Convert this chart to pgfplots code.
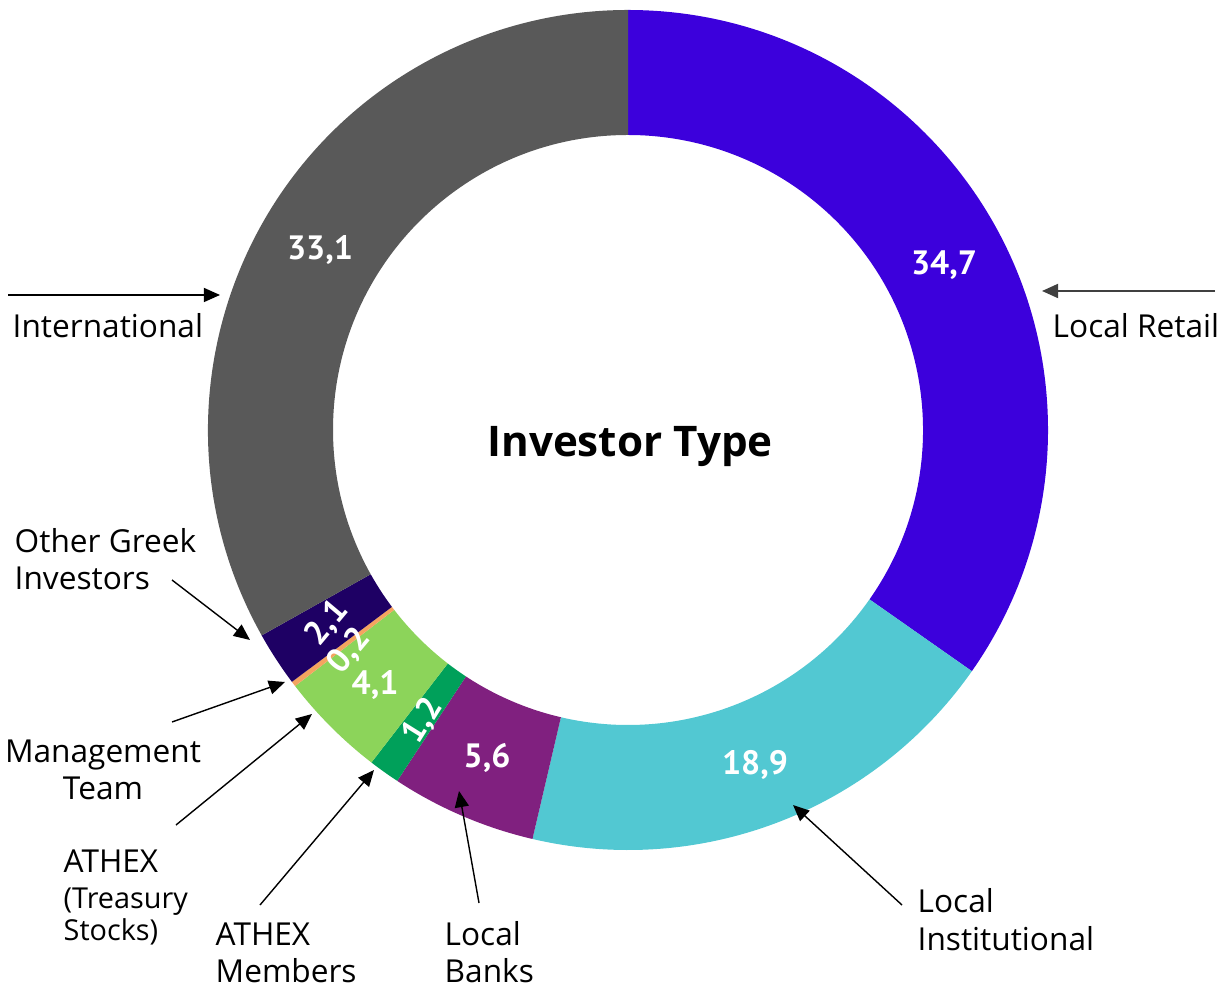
\documentclass[border=0pt]{standalone}
\usepackage{fontspec}
\setmainfont{Open Sans}
\newfontfamily\numfont{PT Sans}
\usepackage{pgfplots}
\pgfplotsset{compat=1.18}
\usetikzlibrary{arrows.meta}
\definecolor{cRetail}{HTML}{3C00DC}
\definecolor{cInst}{HTML}{52C8D2}
\definecolor{cBanks}{HTML}{80207F}
\definecolor{cMembers}{HTML}{00A05A}
\definecolor{cTreas}{HTML}{8CD45A}
\definecolor{cMgmt}{HTML}{F4A460}
\definecolor{cOther}{HTML}{1E0064}
\definecolor{cIntl}{HTML}{595959}
\def\cum{0}
\def\total{99.9}
\newcommand\slice[2]{%
  \pgfmathsetmacro\sa{90-(\cum/\total)*360}%
  \pgfmathsetmacro\newcum{\cum+#1}%
  \xdef\cum{\newcum}%
  \pgfmathsetmacro\sb{90-(\cum/\total)*360}%
  \edef\temp{\noexpand\fill[#2] (axis cs:628,-430) ++(\sa:4.2cm) arc[start angle=\sa,end angle=\sb,radius=4.2cm] -- ++(\sb:-1.25cm) arc[start angle=\sb,end angle=\sa,radius=2.95cm] -- cycle;}%
  \temp}
\tikzset{
  lab/.style={anchor=base west, inner sep=0pt, font=\fontsize{9.0}{11}\selectfont},
  labc/.style={anchor=base, inner sep=0pt, font=\fontsize{9.0}{11}\selectfont},
  labs/.style={anchor=base west, inner sep=0pt, font=\fontsize{8.2}{10}\selectfont},
  num/.style={text=white, inner sep=0pt, font=\numfont\bfseries\fontsize{9.6}{11}\selectfont},
  arr/.style={line width=0.4pt, -{Triangle[length=4.6pt,width=4pt]}},
}
\begin{document}
\begin{tikzpicture}
\begin{axis}[scale only axis, width=12.22cm, height=9.87cm,
  xmin=0, xmax=1222, ymin=-987, ymax=0, hide axis, clip=false]
\path (axis cs:0,0) rectangle (axis cs:1222,-987);
% slices clockwise from top
\slice{34.7}{cRetail}
\slice{18.9}{cInst}
\slice{5.6}{cBanks}
\slice{1.2}{cMembers}
\slice{4.1}{cTreas}
\slice{0.2}{cMgmt}
\slice{2.1}{cOther}
\slice{33.1}{cIntl}
% value labels
\node[num] at (axis cs:944,-265) {34,7};
\node[num] at (axis cs:755,-765) {18,9};
\node[num] at (axis cs:487,-758) {5,6};
\node[num, rotate=58] at (axis cs:423,-721) {1,2};
\node[num] at (axis cs:375,-685) {4,1};
\node[num, rotate=50] at (axis cs:349,-651) {0,2};
\node[num, rotate=50] at (axis cs:327,-623) {2,1};
\node[num] at (axis cs:320,-250) {33,1};
% title
\node[inner sep=0pt, font=\bfseries\fontsize{12.0}{14}\selectfont] at (axis cs:630,-447) {Investor Type};
% category labels
\node[lab] at (axis cs:12,-338) {International};
\node[lab] at (axis cs:1052,-338) {Local Retail};
\node[lab] at (axis cs:14,-553) {Other Greek};
\node[lab] at (axis cs:14,-590) {Investors};
\node[labc] at (axis cs:103,-762) {Management};
\node[labc] at (axis cs:103,-799) {Team};
\node[lab] at (axis cs:63,-872) {ATHEX};
\node[labs] at (axis cs:63,-908) {(Treasury};
\node[labs] at (axis cs:63,-940) {Stocks)};
\node[lab] at (axis cs:215,-945) {ATHEX};
\node[lab] at (axis cs:215,-982) {Members};
\node[lab] at (axis cs:444,-945) {Local};
\node[lab] at (axis cs:444,-982) {Banks};
\node[lab] at (axis cs:917,-912) {Local};
\node[lab] at (axis cs:917,-950) {Institutional};
% arrows
\draw[arr, line width=0.45pt] (axis cs:8,-295) -- (axis cs:220,-295);
\draw[arr, line width=0.6pt, draw=black!75, fill=black] (axis cs:1215,-291) -- (axis cs:1042,-291);
\draw[arr] (axis cs:172,-580) -- (axis cs:250,-640);
\draw[arr] (axis cs:172,-722) -- (axis cs:285,-682);
\draw[arr] (axis cs:176,-825) -- (axis cs:312,-714);
\draw[arr] (axis cs:260,-905) -- (axis cs:374,-770);
\draw[arr] (axis cs:479,-903) -- (axis cs:459,-791);
\draw[arr] (axis cs:902,-905) -- (axis cs:793,-805);
\end{axis}
\end{tikzpicture}
\end{document}
